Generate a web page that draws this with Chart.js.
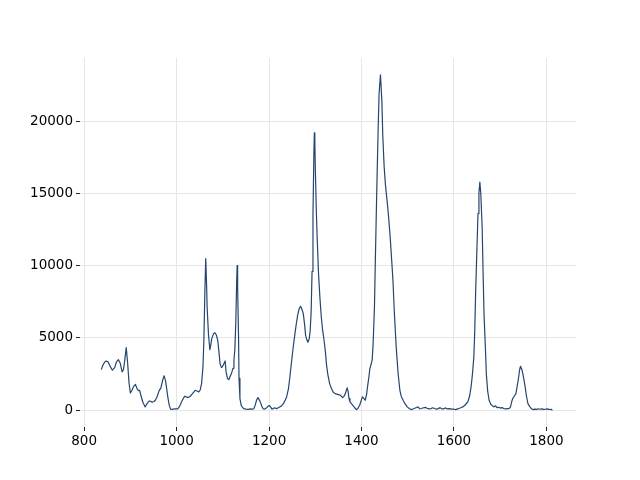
<!DOCTYPE html>
<html>
<head>
<meta charset="utf-8">
<script src="https://cdn.jsdelivr.net/npm/chart.js@4/dist/chart.umd.min.js"></script>
<style>
  html, body { margin: 0; padding: 0; background: #fff; }
  #wrap { width: 640px; height: 480px; }
</style>
</head>
<body>
<div id="wrap"><canvas id="grafico" width="640" height="480"></canvas></div>
<script>
// Raman shift (x) and intensity (y)
const shift = [837, 841, 845, 848, 852, 856, 861, 866, 870, 874, 878, 882, 885, 888, 891, 894, 897, 900, 903, 907,
  911, 915, 918, 920, 923, 927, 932, 936, 941, 944, 947, 951, 954, 958, 962, 966, 970, 973, 976, 978,
  981, 984, 987, 991, 995, 1000, 1003, 1007, 1011, 1015, 1018, 1021, 1025, 1029, 1033, 1037, 1040, 1044, 1048, 1051,
  1054, 1057, 1059, 1061, 1063, 1065, 1066, 1069, 1072, 1074, 1076, 1080, 1083, 1086, 1089, 1092, 1094, 1097, 1099, 1102,
  1105, 1107, 1110, 1113, 1116, 1119, 1122, 1124, 1126, 1128, 1130, 1131, 1132, 1134, 1135, 1137, 1140, 1145, 1150, 1155,
  1160, 1164, 1167, 1170, 1173, 1176, 1179, 1181, 1184, 1187, 1190, 1194, 1198, 1201, 1204, 1206, 1208, 1212, 1216, 1219,
  1223, 1227, 1231, 1235, 1238, 1242, 1245, 1249, 1252, 1256, 1259, 1262, 1265, 1268, 1271, 1274, 1277, 1279, 1282, 1284,
  1287, 1289, 1291, 1293, 1295, 1297, 1298, 1299, 1300, 1302, 1304, 1307, 1310, 1313, 1316, 1319, 1322, 1324, 1327, 1331,
  1335, 1339, 1343, 1348, 1354, 1359, 1362, 1365, 1367, 1369, 1371, 1373, 1375, 1379, 1384, 1387, 1389, 1392, 1396, 1399,
  1402, 1405, 1408, 1411, 1413, 1416, 1418, 1421, 1423, 1425, 1428, 1430, 1433, 1436, 1438, 1441, 1444, 1446, 1449, 1452,
  1456, 1459, 1462, 1465, 1468, 1471, 1475, 1479, 1483, 1486, 1490, 1494, 1499, 1503, 1507, 1511, 1515, 1519, 1522, 1526,
  1530, 1534, 1538, 1542, 1546, 1550, 1554, 1558, 1562, 1566, 1570, 1574, 1578, 1582, 1586, 1590, 1595, 1600, 1604, 1608,
  1612, 1616, 1619, 1623, 1626, 1630, 1634, 1637, 1640, 1643, 1645, 1647, 1650, 1652, 1654, 1656, 1658, 1661, 1663, 1665,
  1668, 1670, 1673, 1676, 1680, 1686, 1690, 1693, 1697, 1700, 1704, 1708, 1712, 1716, 1719, 1722, 1725, 1727, 1730, 1734,
  1737, 1740, 1742, 1744, 1747, 1749, 1752, 1754, 1757, 1760, 1764, 1767, 1771, 1775, 1779, 1783, 1787, 1790, 1794, 1799,
  1803, 1806, 1810, 1813];
const intensidad = [2810, 3150, 3350, 3410, 3330, 3050, 2770, 2950, 3350, 3500, 3250, 2650, 2800, 3500, 4330, 3300, 1900, 1200, 1350, 1650,
  1780, 1450, 1350, 1380, 1000, 550, 230, 450, 640, 620, 550, 600, 690, 950, 1340, 1550, 2100, 2380, 2050, 1610,
  900, 350, 70, 60, 100, 90, 115, 300, 600, 850, 970, 920, 875, 950, 1100, 1250, 1380, 1330, 1270, 1400,
  1840, 3000, 4840, 8000, 10480, 8500, 7140, 5200, 4190, 4500, 4950, 5300, 5350, 5200, 4840, 3900, 3225, 2950, 3000, 3200,
  3410, 2650, 2200, 2120, 2350, 2580, 2900, 3460, 4200, 6000, 9000, 10000, 8500, 5000, 2200, 800, 300, 115, 80, 60,
  90, 70, 100, 350, 700, 875, 700, 580, 300, 100, 70, 150, 280, 320, 200, 80, 90, 170, 110, 150,
  230, 300, 450, 700, 920, 1500, 2300, 3460, 4300, 5300, 6000, 6600, 7000, 7190, 7000, 6680, 5900, 5180, 4850, 4700,
  4950, 5530, 6800, 9600, 13500, 17800, 19190, 18600, 16800, 14060, 12000, 9450, 7800, 6450, 5500, 4840, 4000, 3225, 2500, 1840,
  1500, 1250, 1150, 1100, 1040, 875, 950, 1150, 1350, 1545, 1300, 800, 576, 420, 230, 100, 46, 120, 345, 650,
  920, 820, 690, 1100, 1610, 2300, 2880, 3200, 3460, 4500, 7140, 10500, 15200, 19500, 21890, 23200, 21430, 19000, 16820, 15500,
  14290, 13200, 11980, 10500, 8990, 6800, 4380, 2600, 1380, 950, 690, 450, 230, 120, 46, 80, 140, 190, 230, 100,
  120, 170, 200, 140, 90, 110, 170, 120, 80, 110, 180, 90, 100, 160, 90, 110, 80, 70, 46, 90,
  140, 190, 230, 320, 430, 576, 1000, 1610, 2500, 3690, 5500, 8300, 11500, 13600, 15000, 15780, 15000, 12670, 9500, 6680,
  4300, 2530, 1300, 690, 400, 230, 300, 180, 200, 150, 180, 115, 90, 110, 115, 200, 600, 800, 950, 1150,
  1700, 2300, 2800, 3040, 2800, 2530, 2000, 1610, 950, 460, 250, 120, 46, 80, 60, 100, 70, 90, 60, 70,
  90, 50, 60, 0];

const ticksX = [800, 1000, 1200, 1400, 1600, 1800];
const ticksY = [0, 5000, 10000, 15000, 20000];

const ctx = document.getElementById("grafico").getContext("2d");

new Chart(ctx, {
    type: "line",
    data: {
        datasets: [{
            data: shift.map((x, i) => ({ x: x, y: intensidad[i] })),
            borderColor: "#24466e",
            borderWidth: 1.2,
            borderJoinStyle: "round",
            pointRadius: 0,
            tension: 0,
            fill: false
        }]
    },
    options: {
        responsive: false,
        animation: false,
        events: [],
        layout: { padding: { left: 0, right: 64, top: 58, bottom: 0 } },
        plugins: {
            legend: { display: false },
            tooltip: { enabled: false }
        },
        scales: {
            x: {
                type: "linear",
                min: 791,
                max: 1864,
                afterBuildTicks: scale => { scale.ticks = ticksX.map(v => ({ value: v })); },
                afterFit: scale => { scale.height = 53; },
                border: { display: false },
                grid: { color: "#e6e6e6", lineWidth: 1, tickColor: "#222", tickLength: 4 },
                ticks: {
                    color: "#000",
                    padding: 2,
                    maxRotation: 0,
                    font: { family: "DejaVu Sans", size: 13.5 },
                    callback: v => String(v)
                }
            },
            y: {
                type: "linear",
                min: -1160,
                max: 24360,
                afterBuildTicks: scale => { scale.ticks = ticksY.map(v => ({ value: v })); },
                afterFit: scale => { scale.width = 80; },
                border: { display: false },
                grid: { color: "#e6e6e6", lineWidth: 1, tickColor: "#222", tickLength: 4 },
                ticks: {
                    color: "#000",
                    padding: 3,
                    font: { family: "DejaVu Sans", size: 13.5 },
                    callback: v => String(v)
                }
            }
        }
    }
});
</script>
</body>
</html>
